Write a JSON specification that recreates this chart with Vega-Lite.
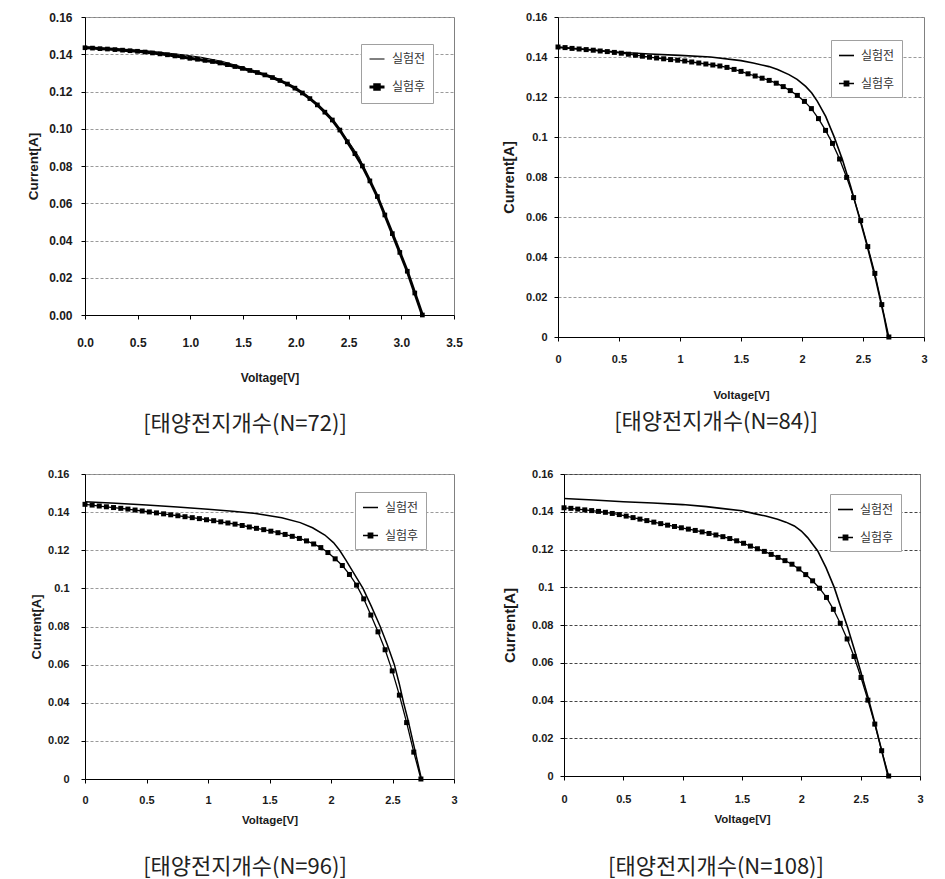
{
"$schema": "https://vega.github.io/schema/vega-lite/v6.json",
"background": "white",
"padding": {"left": 26, "top": 5, "right": 5, "bottom": 0},
"datasets": {
"n72": [
{"voltage":0,"current":0.1435,"series":"실험후"},{"voltage":0.071,"current":0.1433,"series":"실험후"},{"voltage":0.142,"current":0.1430,"series":"실험후"},{"voltage":0.213,"current":0.1428,"series":"실험후"},{"voltage":0.284,"current":0.1425,"series":"실험후"},{"voltage":0.356,"current":0.1422,"series":"실험후"},{"voltage":0.427,"current":0.1419,"series":"실험후"},{"voltage":0.498,"current":0.1416,"series":"실험후"},{"voltage":0.569,"current":0.1412,"series":"실험후"},{"voltage":0.640,"current":0.1407,"series":"실험후"},{"voltage":0.711,"current":0.1402,"series":"실험후"},{"voltage":0.782,"current":0.1397,"series":"실험후"},{"voltage":0.853,"current":0.1391,"series":"실험후"},{"voltage":0.924,"current":0.1385,"series":"실험후"},{"voltage":0.995,"current":0.1378,"series":"실험후"},{"voltage":1.067,"current":0.1373,"series":"실험후"},{"voltage":1.138,"current":0.1367,"series":"실험후"},{"voltage":1.209,"current":0.1361,"series":"실험후"},{"voltage":1.280,"current":0.1353,"series":"실험후"},{"voltage":1.351,"current":0.1344,"series":"실험후"},{"voltage":1.422,"current":0.1334,"series":"실험후"},{"voltage":1.493,"current":0.1324,"series":"실험후"},{"voltage":1.564,"current":0.1313,"series":"실험후"},{"voltage":1.635,"current":0.1302,"series":"실험후"},{"voltage":1.706,"current":0.1289,"series":"실험후"},{"voltage":1.778,"current":0.1275,"series":"실험후"},{"voltage":1.849,"current":0.1259,"series":"실험후"},{"voltage":1.920,"current":0.1240,"series":"실험후"},{"voltage":1.991,"current":0.1218,"series":"실험후"},{"voltage":2.062,"current":0.1192,"series":"실험후"},{"voltage":2.133,"current":0.1162,"series":"실험후"},{"voltage":2.204,"current":0.1128,"series":"실험후"},{"voltage":2.275,"current":0.1089,"series":"실험후"},{"voltage":2.346,"current":0.1047,"series":"실험후"},{"voltage":2.417,"current":0.0993,"series":"실험후"},{"voltage":2.488,"current":0.0930,"series":"실험후"},{"voltage":2.560,"current":0.0866,"series":"실험후"},{"voltage":2.631,"current":0.0800,"series":"실험후"},{"voltage":2.702,"current":0.0720,"series":"실험후"},{"voltage":2.773,"current":0.0636,"series":"실험후"},{"voltage":2.844,"current":0.0537,"series":"실험후"},{"voltage":2.915,"current":0.0437,"series":"실험후"},{"voltage":2.986,"current":0.0336,"series":"실험후"},{"voltage":3.057,"current":0.0235,"series":"실험후"},{"voltage":3.128,"current":0.0118,"series":"실험후"},{"voltage":3.200,"current":0.0,"series":"실험후"},
{"voltage":0,"current":0.1440,"series":"실험전"},{"voltage":0.3,"current":0.1430,"series":"실험전"},{"voltage":0.6,"current":0.1418,"series":"실험전"},{"voltage":0.9,"current":0.1399,"series":"실험전"},{"voltage":1.1,"current":0.1384,"series":"실험전"},{"voltage":1.3,"current":0.1362,"series":"실험전"},{"voltage":1.5,"current":0.1330,"series":"실험전"},{"voltage":1.7,"current":0.1290,"series":"실험전"},{"voltage":1.9,"current":0.1243,"series":"실험전"},{"voltage":2.0,"current":0.1218,"series":"실험전"},{"voltage":2.1,"current":0.1180,"series":"실험전"},{"voltage":2.2,"current":0.1130,"series":"실험전"},{"voltage":2.3,"current":0.1075,"series":"실험전"},{"voltage":2.4,"current":0.1005,"series":"실험전"},{"voltage":2.5,"current":0.0932,"series":"실험전"},{"voltage":2.6,"current":0.0848,"series":"실험전"},{"voltage":2.7,"current":0.0722,"series":"실험전"},{"voltage":2.8,"current":0.0600,"series":"실험전"},{"voltage":2.9,"current":0.0460,"series":"실험전"},{"voltage":3.0,"current":0.0320,"series":"실험전"},{"voltage":3.1,"current":0.0165,"series":"실험전"},{"voltage":3.2,"current":0.0,"series":"실험전"}
],
"n84": [
{"voltage":0,"current":0.1450,"series":"실험후"},{"voltage":0.058,"current":0.1447,"series":"실험후"},{"voltage":0.115,"current":0.1443,"series":"실험후"},{"voltage":0.173,"current":0.1440,"series":"실험후"},{"voltage":0.231,"current":0.1437,"series":"실험후"},{"voltage":0.289,"current":0.1434,"series":"실험후"},{"voltage":0.346,"current":0.1430,"series":"실험후"},{"voltage":0.404,"current":0.1427,"series":"실험후"},{"voltage":0.462,"current":0.1423,"series":"실험후"},{"voltage":0.519,"current":0.1419,"series":"실험후"},{"voltage":0.577,"current":0.1414,"series":"실험후"},{"voltage":0.635,"current":0.1409,"series":"실험후"},{"voltage":0.692,"current":0.1404,"series":"실험후"},{"voltage":0.750,"current":0.1399,"series":"실험후"},{"voltage":0.808,"current":0.1395,"series":"실험후"},{"voltage":0.866,"current":0.1391,"series":"실험후"},{"voltage":0.923,"current":0.1387,"series":"실험후"},{"voltage":0.981,"current":0.1384,"series":"실험후"},{"voltage":1.039,"current":0.1380,"series":"실험후"},{"voltage":1.096,"current":0.1375,"series":"실험후"},{"voltage":1.154,"current":0.1370,"series":"실험후"},{"voltage":1.212,"current":0.1365,"series":"실험후"},{"voltage":1.269,"current":0.1360,"series":"실험후"},{"voltage":1.327,"current":0.1355,"series":"실험후"},{"voltage":1.385,"current":0.1348,"series":"실험후"},{"voltage":1.443,"current":0.1338,"series":"실험후"},{"voltage":1.500,"current":0.1328,"series":"실험후"},{"voltage":1.558,"current":0.1316,"series":"실험후"},{"voltage":1.616,"current":0.1305,"series":"실험후"},{"voltage":1.673,"current":0.1294,"series":"실험후"},{"voltage":1.731,"current":0.1283,"series":"실험후"},{"voltage":1.789,"current":0.1269,"series":"실험후"},{"voltage":1.846,"current":0.1252,"series":"실험후"},{"voltage":1.904,"current":0.1232,"series":"실험후"},{"voltage":1.962,"current":0.1208,"series":"실험후"},{"voltage":2.020,"current":0.1178,"series":"실험후"},{"voltage":2.077,"current":0.1142,"series":"실험후"},{"voltage":2.135,"current":0.1092,"series":"실험후"},{"voltage":2.193,"current":0.1033,"series":"실험후"},{"voltage":2.250,"current":0.0968,"series":"실험후"},{"voltage":2.308,"current":0.0890,"series":"실험후"},{"voltage":2.366,"current":0.0798,"series":"실험후"},{"voltage":2.423,"current":0.0697,"series":"실험후"},{"voltage":2.481,"current":0.0582,"series":"실험후"},{"voltage":2.539,"current":0.0452,"series":"실험후"},{"voltage":2.597,"current":0.0318,"series":"실험후"},{"voltage":2.654,"current":0.0162,"series":"실험후"},{"voltage":2.712,"current":0.0,"series":"실험후"},
{"voltage":0,"current":0.1448,"series":"실험전"},{"voltage":0.25,"current":0.1437,"series":"실험전"},{"voltage":0.5,"current":0.1424,"series":"실험전"},{"voltage":0.75,"current":0.1415,"series":"실험전"},{"voltage":1.0,"current":0.1408,"series":"실험전"},{"voltage":1.25,"current":0.1400,"series":"실험전"},{"voltage":1.5,"current":0.1382,"series":"실험전"},{"voltage":1.6,"current":0.1370,"series":"실험전"},{"voltage":1.73,"current":0.1352,"series":"실험전"},{"voltage":1.8,"current":0.1338,"series":"실험전"},{"voltage":1.893,"current":0.1312,"series":"실험전"},{"voltage":1.96,"current":0.1288,"series":"실험전"},{"voltage":2.03,"current":0.1253,"series":"실험전"},{"voltage":2.08,"current":0.1220,"series":"실험전"},{"voltage":2.126,"current":0.1178,"series":"실험전"},{"voltage":2.194,"current":0.1103,"series":"실험전"},{"voltage":2.262,"current":0.1003,"series":"실험전"},{"voltage":2.331,"current":0.0887,"series":"실험전"},{"voltage":2.399,"current":0.0753,"series":"실험전"},{"voltage":2.467,"current":0.0603,"series":"실험전"},{"voltage":2.535,"current":0.0453,"series":"실험전"},{"voltage":2.604,"current":0.0287,"series":"실험전"},{"voltage":2.672,"current":0.0103,"series":"실험전"},{"voltage":2.705,"current":0.0,"series":"실험전"}
],
"n96": [
{"voltage":0,"current":0.1441,"series":"실험후"},{"voltage":0.058,"current":0.1437,"series":"실험후"},{"voltage":0.116,"current":0.1432,"series":"실험후"},{"voltage":0.174,"current":0.1428,"series":"실험후"},{"voltage":0.232,"current":0.1424,"series":"실험후"},{"voltage":0.291,"current":0.1420,"series":"실험후"},{"voltage":0.349,"current":0.1416,"series":"실험후"},{"voltage":0.407,"current":0.1411,"series":"실험후"},{"voltage":0.465,"current":0.1406,"series":"실험후"},{"voltage":0.523,"current":0.1401,"series":"실험후"},{"voltage":0.581,"current":0.1396,"series":"실험후"},{"voltage":0.639,"current":0.1391,"series":"실험후"},{"voltage":0.697,"current":0.1386,"series":"실험후"},{"voltage":0.755,"current":0.1381,"series":"실험후"},{"voltage":0.813,"current":0.1376,"series":"실험후"},{"voltage":0.872,"current":0.1371,"series":"실험후"},{"voltage":0.930,"current":0.1366,"series":"실험후"},{"voltage":0.988,"current":0.1360,"series":"실험후"},{"voltage":1.046,"current":0.1355,"series":"실험후"},{"voltage":1.104,"current":0.1349,"series":"실험후"},{"voltage":1.162,"current":0.1343,"series":"실험후"},{"voltage":1.220,"current":0.1337,"series":"실험후"},{"voltage":1.278,"current":0.1330,"series":"실험후"},{"voltage":1.336,"current":0.1322,"series":"실험후"},{"voltage":1.394,"current":0.1315,"series":"실험후"},{"voltage":1.453,"current":0.1308,"series":"실험후"},{"voltage":1.511,"current":0.1300,"series":"실험후"},{"voltage":1.569,"current":0.1292,"series":"실험후"},{"voltage":1.627,"current":0.1283,"series":"실험후"},{"voltage":1.685,"current":0.1273,"series":"실험후"},{"voltage":1.743,"current":0.1262,"series":"실험후"},{"voltage":1.801,"current":0.1249,"series":"실험후"},{"voltage":1.859,"current":0.1233,"series":"실험후"},{"voltage":1.917,"current":0.1214,"series":"실험후"},{"voltage":1.975,"current":0.1188,"series":"실험후"},{"voltage":2.034,"current":0.1155,"series":"실험후"},{"voltage":2.092,"current":0.1120,"series":"실험후"},{"voltage":2.150,"current":0.1073,"series":"실험후"},{"voltage":2.208,"current":0.1017,"series":"실험후"},{"voltage":2.266,"current":0.0945,"series":"실험후"},{"voltage":2.324,"current":0.0860,"series":"실험후"},{"voltage":2.382,"current":0.0772,"series":"실험후"},{"voltage":2.440,"current":0.0678,"series":"실험후"},{"voltage":2.498,"current":0.0567,"series":"실험후"},{"voltage":2.556,"current":0.0440,"series":"실험후"},{"voltage":2.615,"current":0.0296,"series":"실험후"},{"voltage":2.673,"current":0.0141,"series":"실험후"},{"voltage":2.731,"current":0.0,"series":"실험후"},
{"voltage":0,"current":0.1455,"series":"실험전"},{"voltage":0.25,"current":0.1447,"series":"실험전"},{"voltage":0.5,"current":0.1438,"series":"실험전"},{"voltage":0.75,"current":0.1427,"series":"실험전"},{"voltage":1.0,"current":0.1415,"series":"실험전"},{"voltage":1.2,"current":0.1405,"series":"실험전"},{"voltage":1.4,"current":0.1392,"series":"실험전"},{"voltage":1.6,"current":0.1370,"series":"실험전"},{"voltage":1.75,"current":0.1345,"series":"실험전"},{"voltage":1.85,"current":0.1318,"series":"실험전"},{"voltage":1.95,"current":0.1280,"series":"실험전"},{"voltage":2.02,"current":0.1240,"series":"실험전"},{"voltage":2.07,"current":0.1200,"series":"실험전"},{"voltage":2.12,"current":0.1150,"series":"실험전"},{"voltage":2.19,"current":0.1075,"series":"실험전"},{"voltage":2.26,"current":0.1000,"series":"실험전"},{"voltage":2.33,"current":0.0903,"series":"실험전"},{"voltage":2.40,"current":0.0800,"series":"실험전"},{"voltage":2.46,"current":0.0700,"series":"실험전"},{"voltage":2.515,"current":0.0600,"series":"실험전"},{"voltage":2.555,"current":0.0500,"series":"실험전"},{"voltage":2.59,"current":0.0400,"series":"실험전"},{"voltage":2.63,"current":0.0300,"series":"실험전"},{"voltage":2.665,"current":0.0200,"series":"실험전"},{"voltage":2.70,"current":0.0100,"series":"실험전"},{"voltage":2.735,"current":0.0,"series":"실험전"}
],
"n108": [
{"voltage":0,"current":0.1421,"series":"실험후"},{"voltage":0.058,"current":0.1418,"series":"실험후"},{"voltage":0.116,"current":0.1414,"series":"실험후"},{"voltage":0.175,"current":0.1410,"series":"실험후"},{"voltage":0.233,"current":0.1406,"series":"실험후"},{"voltage":0.291,"current":0.1402,"series":"실험후"},{"voltage":0.349,"current":0.1397,"series":"실험후"},{"voltage":0.407,"current":0.1391,"series":"실험후"},{"voltage":0.466,"current":0.1385,"series":"실험후"},{"voltage":0.524,"current":0.1377,"series":"실험후"},{"voltage":0.582,"current":0.1369,"series":"실험후"},{"voltage":0.640,"current":0.1361,"series":"실험후"},{"voltage":0.698,"current":0.1353,"series":"실험후"},{"voltage":0.757,"current":0.1345,"series":"실험후"},{"voltage":0.815,"current":0.1337,"series":"실험후"},{"voltage":0.873,"current":0.1329,"series":"실험후"},{"voltage":0.931,"current":0.1322,"series":"실험후"},{"voltage":0.989,"current":0.1315,"series":"실험후"},{"voltage":1.048,"current":0.1308,"series":"실험후"},{"voltage":1.106,"current":0.1301,"series":"실험후"},{"voltage":1.164,"current":0.1293,"series":"실험후"},{"voltage":1.222,"current":0.1285,"series":"실험후"},{"voltage":1.280,"current":0.1277,"series":"실험후"},{"voltage":1.339,"current":0.1268,"series":"실험후"},{"voltage":1.397,"current":0.1258,"series":"실험후"},{"voltage":1.455,"current":0.1246,"series":"실험후"},{"voltage":1.513,"current":0.1233,"series":"실험후"},{"voltage":1.571,"current":0.1218,"series":"실험후"},{"voltage":1.630,"current":0.1204,"series":"실험후"},{"voltage":1.688,"current":0.1190,"series":"실험후"},{"voltage":1.746,"current":0.1174,"series":"실험후"},{"voltage":1.804,"current":0.1158,"series":"실험후"},{"voltage":1.862,"current":0.1141,"series":"실험후"},{"voltage":1.921,"current":0.1122,"series":"실험후"},{"voltage":1.979,"current":0.1097,"series":"실험후"},{"voltage":2.037,"current":0.1067,"series":"실험후"},{"voltage":2.095,"current":0.1034,"series":"실험후"},{"voltage":2.153,"current":0.0995,"series":"실험후"},{"voltage":2.212,"current":0.0946,"series":"실험후"},{"voltage":2.270,"current":0.0883,"series":"실험후"},{"voltage":2.328,"current":0.0809,"series":"실험후"},{"voltage":2.386,"current":0.0726,"series":"실험후"},{"voltage":2.444,"current":0.0633,"series":"실험후"},{"voltage":2.503,"current":0.0522,"series":"실험후"},{"voltage":2.561,"current":0.0402,"series":"실험후"},{"voltage":2.619,"current":0.0275,"series":"실험후"},{"voltage":2.677,"current":0.0134,"series":"실험후"},{"voltage":2.736,"current":0.0,"series":"실험후"},
{"voltage":0,"current":0.1470,"series":"실험전"},{"voltage":0.25,"current":0.1462,"series":"실험전"},{"voltage":0.5,"current":0.1453,"series":"실험전"},{"voltage":0.75,"current":0.1446,"series":"실험전"},{"voltage":1.0,"current":0.1438,"series":"실험전"},{"voltage":1.2,"current":0.1427,"series":"실험전"},{"voltage":1.323,"current":0.1418,"series":"실험전"},{"voltage":1.5,"current":0.1405,"series":"실험전"},{"voltage":1.604,"current":0.1390,"series":"실험전"},{"voltage":1.7,"current":0.1377,"series":"실험전"},{"voltage":1.8,"current":0.1360,"series":"실험전"},{"voltage":1.87,"current":0.1345,"series":"실험전"},{"voltage":1.941,"current":0.1325,"series":"실험전"},{"voltage":2.0,"current":0.1298,"series":"실험전"},{"voltage":2.053,"current":0.1263,"series":"실험전"},{"voltage":2.138,"current":0.1192,"series":"실험전"},{"voltage":2.208,"current":0.1104,"series":"실험전"},{"voltage":2.278,"current":0.0998,"series":"실험전"},{"voltage":2.334,"current":0.0892,"series":"실험전"},{"voltage":2.391,"current":0.0786,"series":"실험전"},{"voltage":2.446,"current":0.0671,"series":"실험전"},{"voltage":2.503,"current":0.0547,"series":"실험전"},{"voltage":2.559,"current":0.0424,"series":"실험전"},{"voltage":2.615,"current":0.0291,"series":"실험전"},{"voltage":2.671,"current":0.0150,"series":"실험전"},{"voltage":2.73,"current":0.0,"series":"실험전"}
]
},
"columns": 2,
"align": "none",
"spacing": {"row": 31, "column": 38},
"resolve": {"scale": {"color": "independent", "strokeWidth": "independent"}, "legend": {"color": "independent", "strokeWidth": "independent"}},
"concat": [
{"width": 369, "height": 298,
 "title": {"text": "[태양전지개수(N=72)]", "dx": -24.5, "offset": 31},
 "data": {"name": "n72"},
 "layer": [
  {"mark": {"type": "line"},
   "encoding": {
    "x": {"field": "voltage", "type": "quantitative", "scale": {"domain": [0, 3.5], "nice": false}, "axis": {"values": [0,0.5,1,1.5,2,2.5,3,3.5], "format": ".1f", "title": "Voltage[V]", "titleY": 62, "labelPadding": 23, "labelFontSize": 12, "titleFontSize": 12}},
    "y": {"field": "current", "type": "quantitative", "scale": {"domain": [0, 0.16], "nice": false}, "axis": {"values": [0,0.02,0.04,0.06,0.08,0.1,0.12,0.14,0.16], "format": ".2f", "title": "Current[A]", "titleX": -51.5, "labelPadding": 9, "labelFontSize": 12, "titleFontSize": 13.5}},
    "color": {"field": "series", "type": "nominal", "scale": {"domain": ["실험전","실험후"], "range": ["#000000","#000000"]},
      "legend": {"title": null, "orient": "none", "legendX": 276, "legendY": 27,
        "encode": {"symbols": {"update": {"shape": {"signal": "datum.value === '실험후' ? 'M-1,0H1M-0.3,-0.3H0.3V0.3H-0.3Z' : 'M-1,0H1'"}, "fill": {"value": "#000000"}, "stroke": {"value": "#000000"}, "strokeWidth": {"signal": "datum.value === '실험후' ? 3 : 1"}}}}}},
    "strokeWidth": {"field": "series", "type": "ordinal", "scale": {"domain": ["실험전","실험후"], "range": [1, 3]}, "legend": null}
   }},
  {"transform": [{"filter": "datum.series === '실험후'"}],
   "mark": {"type": "square", "size": 22, "color": "#000000", "opacity": 1},
   "encoding": {
    "x": {"field": "voltage", "type": "quantitative", "axis": {"orient": "top", "offset": 11, "domainColor": "#ffffff", "labels": false, "ticks": false, "grid": false, "title": null}},
    "y": {"field": "current", "type": "quantitative", "axis": null}
   }}
 ],
 "resolve": {"axis": {"x": "independent", "y": "independent"}}
},
{"width": 366, "height": 320,
 "title": {"text": "[태양전지개수(N=84)]", "dx": -25, "offset": 11},
 "data": {"name": "n84"},
 "layer": [
  {"mark": {"type": "line"},
   "encoding": {
    "x": {"field": "voltage", "type": "quantitative", "scale": {"domain": [0, 3], "nice": false}, "axis": {"values": [0,0.5,1,1.5,2,2.5,3], "format": "~g", "title": "Voltage[V]", "titleY": 58, "labelPadding": 18, "labelFontSize": 11, "titleFontSize": 11.5}},
    "y": {"field": "current", "type": "quantitative", "scale": {"domain": [0, 0.16], "nice": false}, "axis": {"values": [0,0.02,0.04,0.06,0.08,0.1,0.12,0.14,0.16], "format": "~g", "title": "Current[A]", "titleX": -48.5, "labelPadding": 7, "labelFontSize": 11, "titleFontSize": 14.5}},
    "color": {"field": "series", "type": "nominal", "scale": {"domain": ["실험전","실험후"], "range": ["#000000","#000000"]},
      "legend": {"title": null, "orient": "none", "legendX": 273, "legendY": 23,
        "encode": {"symbols": {"update": {"shape": {"signal": "datum.value === '실험후' ? 'M-1,0H1M-0.3,-0.3H0.3V0.3H-0.3Z' : 'M-1,0H1'"}, "fill": {"value": "#000000"}, "stroke": {"value": "#000000"}, "strokeWidth": {"signal": "datum.value === '실험후' ? 1.5 : 2"}}}}}},
    "strokeWidth": {"field": "series", "type": "ordinal", "scale": {"domain": ["실험전","실험후"], "range": [1.6, 1.3]}, "legend": null}
   }},
  {"transform": [{"filter": "datum.series === '실험후'"}],
   "mark": {"type": "square", "size": 25, "color": "#000000", "opacity": 1},
   "encoding": {
    "x": {"field": "voltage", "type": "quantitative", "axis": null},
    "y": {"field": "current", "type": "quantitative", "axis": null}
   }}
 ],
 "resolve": {"axis": {"x": "independent", "y": "independent"}}
},
{"width": 369, "height": 305,
 "title": {"text": "[태양전지개수(N=96)]", "dx": -24.5, "offset": 31},
 "data": {"name": "n96"},
 "layer": [
  {"mark": {"type": "line"},
   "encoding": {
    "x": {"field": "voltage", "type": "quantitative", "scale": {"domain": [0, 3], "nice": false}, "axis": {"values": [0,0.5,1,1.5,2,2.5,3], "format": "~g", "title": "Voltage[V]", "titleY": 41, "labelPadding": 17, "labelFontSize": 11, "titleFontSize": 11.5}},
    "y": {"field": "current", "type": "quantitative", "scale": {"domain": [0, 0.16], "nice": false}, "axis": {"values": [0,0.02,0.04,0.06,0.08,0.1,0.12,0.14,0.16], "format": "~g", "title": "Current[A]", "titleX": -49, "labelPadding": 12, "labelFontSize": 11, "titleFontSize": 13}},
    "color": {"field": "series", "type": "nominal", "scale": {"domain": ["실험전","실험후"], "range": ["#000000","#000000"]},
      "legend": {"title": null, "orient": "none", "legendX": 270, "legendY": 18,
        "encode": {"symbols": {"update": {"shape": {"signal": "datum.value === '실험후' ? 'M-1,0H1M-0.3,-0.3H0.3V0.3H-0.3Z' : 'M-1,0H1'"}, "fill": {"value": "#000000"}, "stroke": {"value": "#000000"}, "strokeWidth": {"signal": "datum.value === '실험후' ? 1.5 : 1.5"}}}}}},
    "strokeWidth": {"field": "series", "type": "ordinal", "scale": {"domain": ["실험전","실험후"], "range": [1.5, 1.3]}, "legend": null}
   }},
  {"transform": [{"filter": "datum.series === '실험후'"}],
   "mark": {"type": "square", "size": 25, "color": "#000000", "opacity": 1},
   "encoding": {
    "x": {"field": "voltage", "type": "quantitative", "axis": null},
    "y": {"field": "current", "type": "quantitative", "axis": {"orient": "right", "offset": 7, "domainColor": "#ffffff", "labels": false, "ticks": false, "grid": false, "title": null}}
   }}
 ],
 "resolve": {"axis": {"x": "independent", "y": "independent"}}
},
{"width": 356, "height": 302,
 "title": {"text": "[태양전지개수(N=108)]", "dx": -26, "offset": 32},
 "data": {"name": "n108"},
 "layer": [
  {"mark": {"type": "line"},
   "encoding": {
    "x": {"field": "voltage", "type": "quantitative", "scale": {"domain": [0, 3], "nice": false}, "axis": {"values": [0,0.5,1,1.5,2,2.5,3], "format": "~g", "title": "Voltage[V]", "titleY": 43, "labelPadding": 19, "labelFontSize": 11, "titleFontSize": 11.5}},
    "y": {"field": "current", "type": "quantitative", "scale": {"domain": [0, 0.16], "nice": false}, "axis": {"values": [0,0.02,0.04,0.06,0.08,0.1,0.12,0.14,0.16], "format": "~g", "title": "Current[A]", "titleX": -55, "labelPadding": 7, "labelFontSize": 11, "titleFontSize": 15, "gridColor": "#444444"}},
    "color": {"field": "series", "type": "nominal", "scale": {"domain": ["실험전","실험후"], "range": ["#000000","#000000"]},
      "legend": {"title": null, "orient": "none", "legendX": 266, "legendY": 20,
        "encode": {"symbols": {"update": {"shape": {"signal": "datum.value === '실험후' ? 'M-1,0H1M-0.3,-0.3H0.3V0.3H-0.3Z' : 'M-1,0H1'"}, "fill": {"value": "#000000"}, "stroke": {"value": "#000000"}, "strokeWidth": {"signal": "datum.value === '실험후' ? 1.5 : 2"}}}}}},
    "strokeWidth": {"field": "series", "type": "ordinal", "scale": {"domain": ["실험전","실험후"], "range": [1.6, 1.3]}, "legend": null}
   }},
  {"transform": [{"filter": "datum.series === '실험후'"}],
   "mark": {"type": "square", "size": 25, "color": "#000000", "opacity": 1},
   "encoding": {
    "x": {"field": "voltage", "type": "quantitative", "axis": null},
    "y": {"field": "current", "type": "quantitative", "axis": null}
   }}
 ],
 "resolve": {"axis": {"x": "independent", "y": "independent"}}
}
],
"config": {
 "view": {"stroke": "#808080", "strokeWidth": 1},
 "axis": {"domainColor": "#000000", "tickColor": "#000000", "tickSize": 4, "labelOverlap": false, "labelFlush": false, "labelFont": "Liberation Sans", "labelFontWeight": "bold", "labelColor": "#1a1a1a", "titleFont": "Liberation Sans", "titleFontWeight": "bold", "titleColor": "#1a1a1a", "gridColor": "#9a9a9a", "gridDash": [3, 2], "gridWidth": 1},
 "axisX": {"grid": false, "labelBaseline": "middle", "titleBaseline": "middle"},
 "axisY": {"grid": true, "titleBaseline": "middle", "titleAngle": 270},
 "title": {"orient": "bottom", "anchor": "middle", "frame": "group", "baseline": "top", "font": "Noto Sans CJK KR", "fontSize": 22, "fontWeight": "normal", "color": "#222222"},
 "legend": {"strokeColor": "#a0a0a0", "fillColor": "#ffffff", "padding": 7, "symbolSize": 225, "rowPadding": 13, "labelFont": "Noto Sans CJK KR", "labelFontSize": 12, "labelColor": "#333333", "labelOffset": 6}
}
}
